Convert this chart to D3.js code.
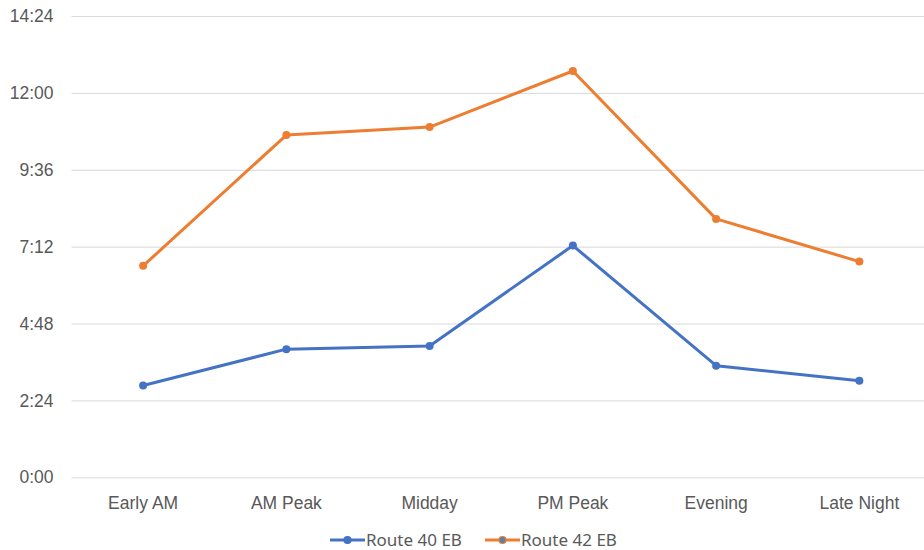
<!DOCTYPE html>
<html>
<head>
<meta charset="utf-8">
<script src="https://cdn.jsdelivr.net/npm/d3@7"></script>
<style>
  html, body { margin: 0; padding: 0; background: #fff; }
  svg { display: block; font-family: "Noto Sans", "Open Sans", sans-serif; }
</style>
</head>
<body>
<svg id="chart" width="924" height="550"></svg>
<script>
// Travel time by period of day, in seconds
const periods = ["Early AM", "AM Peak", "Midday", "PM Peak", "Evening", "Late Night"];
const route40 = [172, 240, 246, 434, 209, 181];
const route42 = [396, 641, 656, 761, 484, 404];
const seriesNames = ["Route 40 EB", "Route 42 EB"];
const seriesColors = ["#4472C4", "#ED7D31"];
const yTicks = [0, 144, 288, 432, 576, 720, 864];

const svg = d3.select("#chart");
const margin = { left: 71.5, right: -7, top: 16, bottom: 72.7 };
const W = 924, H = 550;

const x = d3.scaleBand()
  .domain(periods)
  .range([margin.left, W - margin.right])
  .paddingInner(0).paddingOuter(0);

const y = d3.scaleLinear()
  .domain([0, 864])
  .range([H - margin.bottom, margin.top]);

const fmt = s => `${Math.floor(s / 60)}:${String(s % 60).padStart(2, "0")}`;

// Horizontal gridlines with time labels
const yAxis = d3.axisLeft(y).tickValues(yTicks).tickFormat(fmt).tickSize(-(W - margin.left - margin.right)).tickPadding(18);
const gy = svg.append("g").attr("transform", `translate(${margin.left},0)`).call(yAxis);
gy.select(".domain").remove();
gy.selectAll(".tick line").attr("stroke", "#d9d9d9").attr("stroke-width", 1);
gy.selectAll(".tick text").attr("fill", "#595959").style("font-size", "17.5px");

// Category labels
const xAxis = d3.axisBottom(x).tickSize(0).tickPadding(19);
const gx = svg.append("g").attr("transform", `translate(0,${H - margin.bottom})`).call(xAxis);
gx.select(".domain").remove();
gx.selectAll(".tick text").attr("fill", "#595959").style("font-size", "17.5px");

const series = [route40, route42];
const line = d3.line()
  .x((d, i) => x(periods[i]) + x.bandwidth() / 2)
  .y(d => y(d));

series.forEach((vals, k) => {
  const g = svg.append("g");
  g.append("path")
    .datum(vals)
    .attr("d", line)
    .attr("fill", "none")
    .attr("stroke", seriesColors[k])
    .attr("stroke-width", 3)
    .attr("stroke-linejoin", "round")
    .attr("stroke-linecap", "round");
  g.selectAll("circle")
    .data(vals)
    .join("circle")
    .attr("cx", (d, i) => x(periods[i]) + x.bandwidth() / 2)
    .attr("cy", d => y(d))
    .attr("r", 4)
    .attr("fill", seriesColors[k]);
});

// Legend
const legendItems = [
  { x: 330, name: seriesNames[0], color: seriesColors[0], fill: seriesColors[0] },
  { x: 485, name: seriesNames[1], color: seriesColors[1], fill: "#5b7fa8" }
];
const lg = svg.append("g").attr("transform", "translate(0,540)");
legendItems.forEach(it => {
  lg.append("line").attr("x1", it.x).attr("x2", it.x + 35).attr("y1", 0).attr("y2", 0)
    .attr("stroke", it.color).attr("stroke-width", 3);
  lg.append("circle").attr("cx", it.x + 17.5).attr("cy", 0).attr("r", 3.5)
    .attr("fill", it.fill).attr("stroke", it.color).attr("stroke-width", 1.2);
  lg.append("text").attr("x", it.x + 36).attr("y", 0).attr("dy", "0.35em")
    .attr("fill", "#595959").style("font-size", "17px").text(it.name);
});
</script>
</body>
</html>
